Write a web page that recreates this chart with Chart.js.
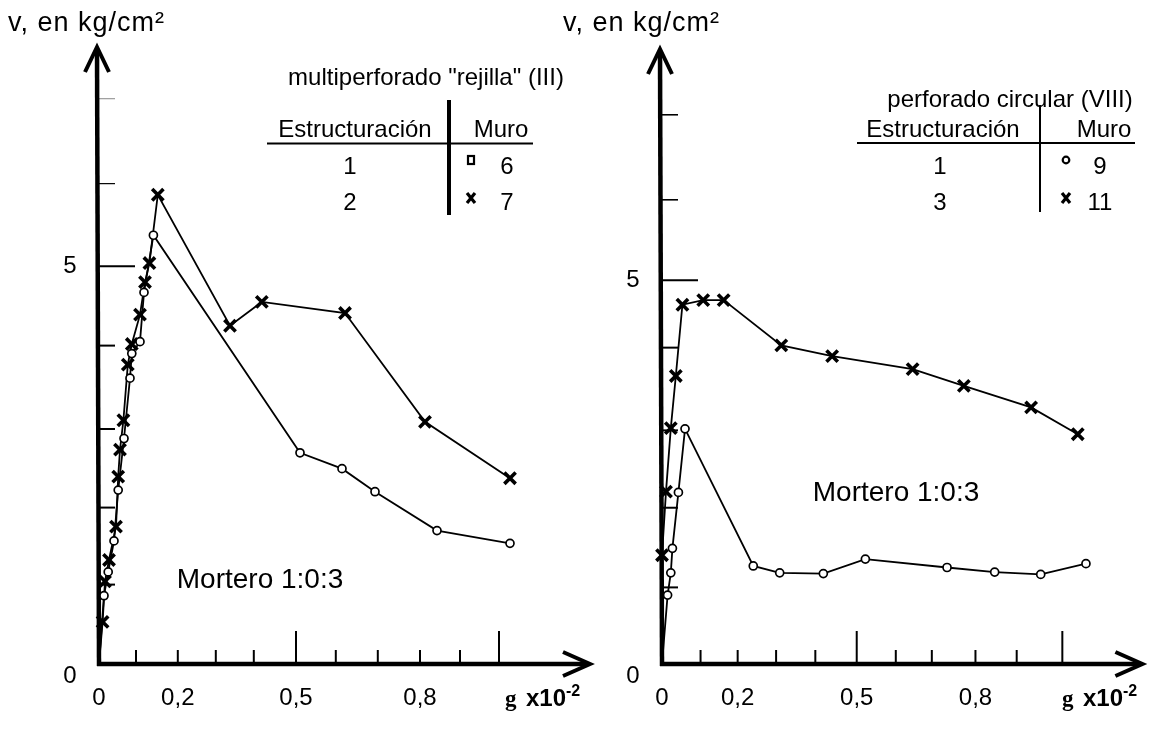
<!DOCTYPE html>
<html lang="es">
<head>
<meta charset="utf-8">
<title>v vs g</title>
<script src="https://cdn.jsdelivr.net/npm/chart.js@4.4.1/dist/chart.umd.min.js"></script>
<style>
html,body{margin:0;padding:0;background:#fff;}
#wrap{position:relative;width:1154px;height:730px;overflow:hidden;}
canvas{position:absolute;left:0;top:0;}
</style>
</head>
<body>
<div id="wrap">
<canvas id="cLeft" width="1154" height="730"></canvas>
<canvas id="cRight" width="1154" height="730"></canvas>
</div>
<script>
// ===== DATA =====
// Left panel: multiperforado "rejilla" (III)
const leftMuro6G = [0, 0.0125, 0.023, 0.0375, 0.048, 0.0625, 0.0775, 0.082, 0.1025, 0.1125, 0.136, 0.5025, 0.6075, 0.69, 0.845, 1.0275];
const leftMuro6V = [0, 0.86, 1.16, 1.55, 2.19, 2.84, 3.60, 3.91, 4.06, 4.68, 5.40, 2.66, 2.46, 2.17, 1.68, 1.52];
const leftMuro7G = [0, 0.009, 0.015, 0.025, 0.0425, 0.048, 0.0525, 0.061, 0.072, 0.082, 0.1025, 0.115, 0.126, 0.147, 0.3275, 0.407, 0.615, 0.815, 1.0275];
const leftMuro7V = [0, 0.53, 1.04, 1.31, 1.73, 2.36, 2.70, 3.07, 3.77, 4.03, 4.40, 4.81, 5.05, 5.91, 4.26, 4.56, 4.42, 3.05, 2.34];

// Right panel: perforado circular (VIII)
const rightMuro9G = [0, 0.014, 0.022, 0.026, 0.041, 0.0575, 0.228, 0.294, 0.403, 0.508, 0.712, 0.831, 0.946, 1.059];
const rightMuro9V = [0, 0.90, 1.19, 1.51, 2.24, 3.07, 1.28, 1.19, 1.18, 1.37, 1.26, 1.20, 1.17, 1.31];
const rightMuro11G = [0, 0.0, 0.01, 0.022, 0.0345, 0.051, 0.103, 0.154, 0.298, 0.425, 0.626, 0.754, 0.922, 1.0385];
const rightMuro11V = [0, 1.42, 2.25, 3.08, 3.76, 4.69, 4.75, 4.75, 4.16, 4.02, 3.85, 3.63, 3.35, 3.00];

// Axis tick marks (as drawn in the reference, nominal 0.1 ... 1.0 and 1 ... 7)
const leftXTicks  = [0.0925, 0.197, 0.292, 0.387, 0.4925, 0.592, 0.697, 0.8025, 0.9025, 1.0];
const rightXTicks = [0.0963, 0.189, 0.285, 0.383, 0.4864, 0.584, 0.674, 0.783, 0.886, 1.0];
const leftYTicks  = [1.0, 1.97, 2.96, 4.01, 5.01, 6.05, 7.12];
const rightYTicks = [1.0, 2.04, 3.05, 4.13, 5.01, 6.06, 7.17];
const xTickLabels = ['0', '0,2', '0,5', '0,8'];
const xTickLabelIdx = [-1, 1, 4, 7];   // -1 = origin
const yTickLabels = ['0', '5'];

const yTitle = 'v, en kg/cm²';
const mortero = 'Mortero 1:0:3';
const leftSubtitle = 'multiperforado "rejilla" (III)';
const rightSubtitle = 'perforado circular (VIII)';
const tableHead = ['Estructuración', 'Muro'];
const leftRows = [['1', '6'], ['2', '7']];
const rightRows = [['1', '9'], ['3', '11']];

const pts = (g, v) => g.map((x, i) => ({x: x, y: v[i]}));
const SANS = '"Liberation Sans", Arial, sans-serif';

function drawX(ctx, x, y, r, lw) {
  ctx.save(); ctx.strokeStyle = '#000'; ctx.lineWidth = lw; ctx.lineCap = 'butt';
  ctx.beginPath(); ctx.moveTo(x - r * 0.8, y - r); ctx.lineTo(x + r * 0.8, y + r);
  ctx.moveTo(x + r * 0.8, y - r); ctx.lineTo(x - r * 0.8, y + r); ctx.stroke(); ctx.restore();
}

const decor = {
  id: 'decor',
  beforeDatasetsDraw(chart, args, o) {
    const ctx = chart.ctx, xs = chart.scales.x, ys = chart.scales.y, ca = chart.chartArea;
    const x0 = xs.getPixelForValue(0), y0 = ys.getPixelForValue(0);
    ctx.save();
    ctx.strokeStyle = '#000'; ctx.lineCap = 'butt';
    o.yTicks.forEach((v, i) => {
      const y = ys.getPixelForValue(v);
      const major = (i === 4);
      ctx.lineWidth = (i >= 5 ? o.topTickW : 2);
      ctx.strokeStyle = (i === 6 ? o.topTickColor : '#000');
      ctx.beginPath(); ctx.moveTo(x0, y); ctx.lineTo(x0 + (major ? 36 : 16), y); ctx.stroke();
    });
    ctx.strokeStyle = '#000';
    o.xTicks.forEach((v, i) => {
      const x = xs.getPixelForValue(v);
      const major = (i === 4 || i === 9);
      ctx.lineWidth = 2;
      ctx.beginPath(); ctx.moveTo(x, y0); ctx.lineTo(x, y0 - (major ? 33 : 14)); ctx.stroke();
    });
    ctx.lineWidth = 4.5;
    ctx.beginPath(); ctx.moveTo(x0, y0 + 2); ctx.lineTo(o.yTipX, ca.top + 2); ctx.stroke();
    ctx.beginPath(); ctx.moveTo(x0 - 2, y0); ctx.lineTo(ca.right - 2, y0); ctx.stroke();
    ctx.lineWidth = 4;
    ctx.beginPath();
    ctx.moveTo(o.yTipX - 12, ca.top + 25); ctx.lineTo(o.yTipX, ca.top); ctx.lineTo(o.yTipX + 12, ca.top + 25);
    ctx.stroke();
    ctx.beginPath();
    ctx.moveTo(ca.right - 27, y0 - 12); ctx.lineTo(ca.right, y0); ctx.lineTo(ca.right - 27, y0 + 12);
    ctx.stroke();
    ctx.restore();
  },
  afterDatasetsDraw(chart, args, o) {
    const ctx = chart.ctx, xs = chart.scales.x, ys = chart.scales.y;
    const x0 = xs.getPixelForValue(0), y0 = ys.getPixelForValue(0);
    ctx.save();
    ctx.fillStyle = '#000';
    ctx.font = '24px ' + SANS; ctx.textAlign = 'center'; ctx.textBaseline = 'middle';
    xTickLabels.forEach((t, i) => {
      const idx = xTickLabelIdx[i];
      const x = xs.getPixelForValue(idx < 0 ? 0 : o.xTicks[idx]);
      ctx.fillText(t, x, y0 + 34);
    });
    ctx.fillText(yTickLabels[0], x0 - 29, y0 + 12);
    ctx.fillText(yTickLabels[1], x0 - 29, ys.getPixelForValue(o.yTicks[4]));
    // x axis title g x10^-2
    const gx = o.gX;
    ctx.textAlign = 'left'; ctx.textBaseline = 'alphabetic';
    ctx.font = 'bold 23px "Liberation Serif", "Times New Roman", serif';
    ctx.fillText('g', gx, 706);
    ctx.font = 'bold 24px ' + SANS;
    ctx.fillText('x10', gx + 21, 706);
    const w = ctx.measureText('x10').width;
    ctx.font = 'bold 16px ' + SANS;
    ctx.fillText('-2', gx + 21 + w, 696);
    // y title
    ctx.font = '27px ' + SANS;
    try { ctx.letterSpacing = '1px'; } catch (e) {}
    ctx.fillText(yTitle, o.titleX, 31);
    try { ctx.letterSpacing = '0px'; } catch (e) {}
    ctx.textAlign = 'center'; ctx.textBaseline = 'middle';
    ctx.font = '28px ' + SANS;
    ctx.fillText(mortero, o.morteroX, o.morteroY);
    const T = o.table;
    ctx.font = '24px ' + SANS;
    ctx.fillText(o.subtitle, T.subX, T.subY);
    ctx.fillText(tableHead[0], T.c1, T.headY);
    ctx.fillText(tableHead[1], T.c2, T.headY);
    o.rows.forEach((r, i) => {
      ctx.fillText(r[0], T.c1r, T.rowY[i]);
      ctx.fillText(r[1], T.c2r, T.rowY[i]);
    });
    ctx.strokeStyle = '#000';
    ctx.lineWidth = 2;
    ctx.beginPath(); ctx.moveTo(T.hl[0], T.hl[2]); ctx.lineTo(T.hl[1], T.hl[2]); ctx.stroke();
    ctx.lineWidth = T.vlW;
    ctx.beginPath(); ctx.moveTo(T.vl[0], T.vl[1]); ctx.lineTo(T.vl[0], T.vl[2]); ctx.stroke();
    ctx.lineWidth = 2.2;
    if (T.mark1 === 'rect') {
      ctx.strokeRect(T.mx - 3, T.rowY[0] - 11, 6, 8);
    } else {
      ctx.beginPath(); ctx.arc(T.mx, T.rowY[0] - 7, 3.3, 0, Math.PI * 2); ctx.stroke();
    }
    drawX(ctx, T.mx, T.rowY[1] - 5, 5, 3.2);
    ctx.restore();
  }
};

const hideFirst = (r) => (c) => (c.dataIndex === 0 ? 0 : r);

function makeChart(id, cfg) {
  return new Chart(document.getElementById(id), {
    type: 'line',
    data: {
      datasets: [
        {
          data: cfg.circ, borderColor: '#000', borderWidth: 1.8, tension: 0,
          pointStyle: 'circle', pointRadius: hideFirst(4), pointBorderWidth: 1.7,
          pointBackgroundColor: '#fff', pointBorderColor: '#000', clip: false
        },
        {
          data: cfg.cross, borderColor: '#000', borderWidth: 1.8, tension: 0,
          pointStyle: 'crossRot', pointRadius: hideFirst(8), pointBorderWidth: 3.6,
          pointBackgroundColor: '#000', pointBorderColor: '#000', clip: false
        }
      ]
    },
    options: {
      responsive: false, animation: false, events: [],
      layout: {padding: cfg.pad},
      scales: {
        x: {type: 'linear', display: false, min: 0, max: cfg.xMax},
        y: {type: 'linear', display: false, min: 0, max: cfg.yMax}
      },
      plugins: {legend: {display: false}, tooltip: {enabled: false}, decor: cfg.decor}
    },
    plugins: [decor]
  });
}

makeChart('cLeft', {
  circ: pts(leftMuro6G, leftMuro6V),
  cross: pts(leftMuro7G, leftMuro7V),
  pad: {left: 99, right: 1154 - 590, top: 47, bottom: 730 - 664},
  xMax: (590 - 99) / 400, yMax: (664 - 47) / 79.4,
  decor: {
    xTicks: leftXTicks, yTicks: leftYTicks, yTipX: 97, topTickW: 1.2, topTickColor: '#9a9a9a',
    gX: 505, titleX: 8, morteroX: 260, morteroY: 580,
    subtitle: leftSubtitle, rows: leftRows,
    table: {subX: 426, subY: 78, c1: 355, c2: 501, headY: 130, c1r: 350, c2r: 507, rowY: [167, 203],
            hl: [267, 533, 143.5], vl: [449, 100, 215], vlW: 4, mark1: 'rect', mx: 471}
  }
});

makeChart('cRight', {
  circ: pts(rightMuro9G, rightMuro9V),
  cross: pts(rightMuro11G, rightMuro11V),
  pad: {left: 662, right: 1154 - 1148, top: 49, bottom: 730 - 664},
  xMax: (1148 - 662) / 405, yMax: (664 - 49) / 76.6,
  decor: {
    xTicks: rightXTicks, yTicks: rightYTicks, yTipX: 660, topTickW: 1.6, topTickColor: '#000',
    gX: 1062, titleX: 563, morteroX: 896, morteroY: 493,
    subtitle: rightSubtitle, rows: rightRows,
    table: {subX: 1010, subY: 100, c1: 943, c2: 1104, headY: 130, c1r: 940, c2r: 1100, rowY: [167, 203],
            hl: [857, 1135, 143], vl: [1040, 105, 212], vlW: 2, mark1: 'circle', mx: 1066}
  }
});
</script>
</body>
</html>
